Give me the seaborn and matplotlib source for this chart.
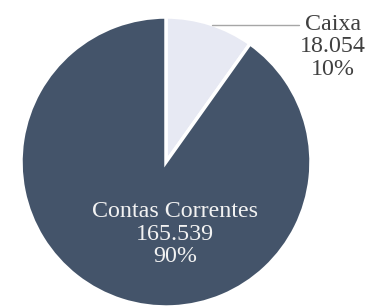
import matplotlib
matplotlib.use("Agg")
import matplotlib.pyplot as plt
import seaborn as sns

labels = ["Caixa", "Contas Correntes"]
values = [18054, 165539]
value_text = ["18.054", "165.539"]
pct_text = ["10%", "90%"]
colors = ["#E7E9F3", "#44546A"]

sns.set_theme(style="white")
plt.rcParams["font.family"] = ["Liberation Serif", "DejaVu Serif"]

fig = plt.figure(figsize=(3.69, 3.07), dpi=100)
ax = fig.add_axes([0, 0, 1, 1])

# pixel coords, y measured upward
cx, cy, r = 166, 145, 145
ax.pie(values, colors=colors, startangle=90, counterclock=False,
       radius=r, center=(cx, cy),
       wedgeprops=dict(edgecolor="white", linewidth=2.5))
ax.set_xlim(0, 369)
ax.set_ylim(0, 307)
ax.set_aspect("equal")
ax.axis("off")

# Caixa label with leader line
ax.plot([212, 299], [307 - 25, 307 - 25], color="#A6A6A6", lw=1)
ax.text(333, 307 - 47, f"{labels[0]}\n{value_text[0]}\n{pct_text[0]}",
        ha="center", va="center", fontsize=17.3, color="#404040", linespacing=1.1)

# Contas Correntes label inside
ax.text(175, 307 - 234, f"{labels[1]}\n{value_text[1]}\n{pct_text[1]}",
        ha="center", va="center", fontsize=17.3, color="#F2F2F2", linespacing=1.1)

fig.savefig("out.png", dpi=100)
